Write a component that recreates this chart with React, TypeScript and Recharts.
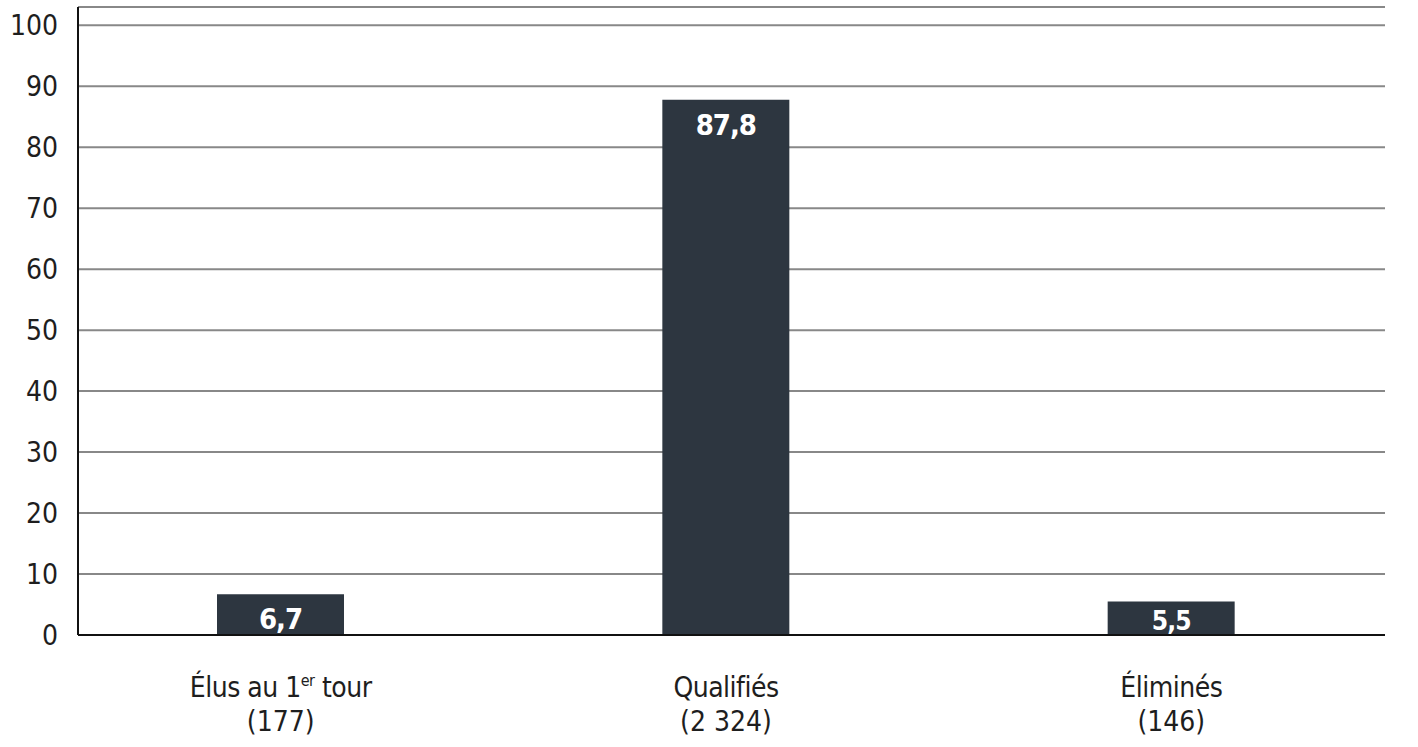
import React from 'react';
import { BarChart, Bar, XAxis, YAxis, CartesianGrid, LabelList } from 'recharts';

const categories = ['Élus au 1er tour', 'Qualifiés', 'Éliminés'];
const counts = ['(177)', '(2 324)', '(146)'];
const shares = [6.7, 87.8, 5.5];
const shareLabels = ['6,7', '87,8', '5,5'];
const yTicks = [0, 10, 20, 30, 40, 50, 60, 70, 80, 90, 100];

const data = categories.map((name, i) => ({
  name,
  count: counts[i],
  value: shares[i],
  label: shareLabels[i],
}));

const FONT = "'DejaVu Sans Condensed', 'Roboto', sans-serif";
const TEXT = '#1e1e1e';
const BAR = '#2d3640';

const CategoryTick = (props: any) => {
  const { x, y, payload, index } = props;
  const name: string = payload.value;
  const m = name.match(/^(.*\d)(er)(.*)$/);
  return (
    <g>
      <text x={x} y={y + 60} textAnchor="middle" fontFamily={FONT} fontSize={28} fill={TEXT} letterSpacing={-0.5}>
        {m ? (
          <>
            <tspan>{m[1]}</tspan>
            <tspan fontSize={16} dy={-11}>{m[2]}</tspan>
            <tspan dy={11}>{m[3]}</tspan>
          </>
        ) : (
          name
        )}
      </text>
      <text x={x} y={y + 94} textAnchor="middle" fontFamily={FONT} fontSize={28} fill={TEXT}>
        {counts[index]}
      </text>
    </g>
  );
};

const ValueLabel = (props: any) => {
  const { x, y, width, height, index } = props;
  const size = Math.min(29, height * 0.78);
  const baseline = Math.min(y + 35, y + height - 5);
  return (
    <text
      x={x + width / 2}
      y={baseline}
      textAnchor="middle"
      fontFamily={FONT}
      fontWeight="bold"
      fontSize={size}
      letterSpacing={-1}
      fill="#ffffff"
    >
      {shareLabels[index]}
    </text>
  );
};

export default function App() {
  return (
    <div style={{ position: 'absolute', left: 0, top: 0, width: 1418, height: 747, background: '#fff' }}>
      <BarChart
        width={1418}
        height={747}
        data={data}
        margin={{ top: 7, right: 33, bottom: 82, left: 0 }}
        barSize={127}
      >
        <CartesianGrid vertical={false} stroke="#888888" strokeWidth={2} />
        <XAxis
          dataKey="name"
          height={30}
          axisLine={{ stroke: '#111111', strokeWidth: 2 }}
          tickLine={false}
          tickSize={0}
          padding={{ left: -20, right: -9 }}
          interval={0}
          tick={<CategoryTick />}
        />
        <YAxis
          width={78}
          domain={[0, 103]}
          ticks={yTicks}
          axisLine={{ stroke: '#111111', strokeWidth: 2 }}
          tickLine={false}
          tickSize={0}
          tickMargin={20}
          tick={{ fontFamily: FONT, fontSize: 28, fill: TEXT }}
        />
        <Bar dataKey="value" fill={BAR} isAnimationActive={false}>
          <LabelList dataKey="label" content={<ValueLabel />} />
        </Bar>
      </BarChart>
    </div>
  );
}
